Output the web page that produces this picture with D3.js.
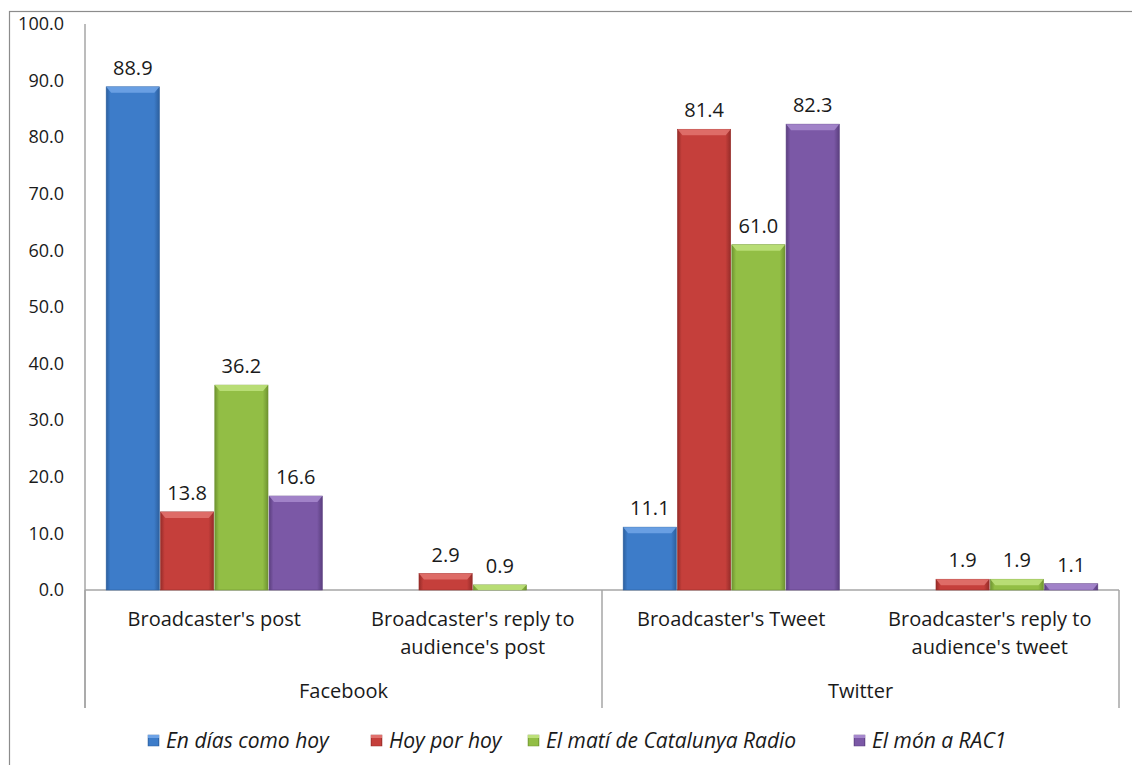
<!DOCTYPE html>
<html>
<head>
<meta charset="utf-8">
<script src="https://cdn.jsdelivr.net/npm/d3@7"></script>
<style>
  html, body { margin: 0; padding: 0; background: #fff; }
  svg text { font-family: "Open Sans", Lato, sans-serif; fill: #1a1a1a; }
</style>
</head>
<body>
<svg id="chart" width="1132" height="765"></svg>
<script>
// ---- data ----
const categories = ["Broadcaster's post", "Broadcaster's reply to|audience's post", "Broadcaster's Tweet", "Broadcaster's reply to|audience's tweet"];
const groups = ["Facebook", "Twitter"];
const groupOf = [0, 0, 1, 1];
const seriesNames = ["En días como hoy", "Hoy por hoy", "El matí de Catalunya Radio", "El món a RAC1"];
const enDiasComoHoy = [88.9, null, 11.1, null];
const hoyPorHoy = [13.8, 2.9, 81.4, 1.9];
const elMatiCatalunya = [36.2, 0.9, 61.0, 1.9];
const elMonRac1 = [16.6, null, 82.3, 1.1];
const yTicks = [0, 10, 20, 30, 40, 50, 60, 70, 80, 90, 100];
const seriesValues = [enDiasComoHoy, hoyPorHoy, elMatiCatalunya, elMonRac1];
const colors = [
  {base: "#3d7cc9", light: "#6ea3e6", dark: "#2c5f9e"},
  {base: "#c53f3b", light: "#e0716d", dark: "#962c29"},
  {base: "#92be45", light: "#bde07a", dark: "#6f9431"},
  {base: "#7b58a6", light: "#a587cc", dark: "#5b3f7f"}
];

const svg = d3.select("#chart");
const defs = svg.append("defs");
colors.forEach((c, i) => {
  const g = defs.append("linearGradient").attr("id", "grad" + i).attr("x1", "0").attr("x2", "1").attr("y1", "0").attr("y2", "0");
  g.append("stop").attr("offset", "0%").attr("stop-color", c.dark);
  g.append("stop").attr("offset", "8%").attr("stop-color", c.base);
  g.append("stop").attr("offset", "90%").attr("stop-color", c.base);
  g.append("stop").attr("offset", "100%").attr("stop-color", c.dark);
});

// outer frame
svg.append("rect").attr("x", 9.5).attr("y", 11.5).attr("width", 1140).attr("height", 780)
  .attr("fill", "none").attr("stroke", "#8c8c8c").attr("stroke-width", 1.2);

const pLeft = 85, pRight = 1119, pTop = 24, pBottom = 590;
const y = d3.scaleLinear().domain([0, 100]).range([pBottom, pTop]);
const x0 = d3.scaleBand().domain(d3.range(categories.length)).range([pLeft, pRight]).padding(0);
const x1 = d3.scaleBand().domain(d3.range(seriesNames.length)).range([0, x0.bandwidth()]).paddingInner(0.02).paddingOuter(0.39);

// y axis
const yAxis = d3.axisLeft(y).tickValues(yTicks).tickFormat(d3.format(".1f")).tickSize(0).tickPadding(21);
const yg = svg.append("g").attr("transform", `translate(${pLeft},0)`).call(yAxis);
yg.select(".domain").remove();
yg.selectAll("text").style("font-size", "18px").style("font-family", "'Open Sans', Lato, sans-serif").attr("fill", "#1a1a1a");

const axisColor = "#a6a6a6";
svg.append("line").attr("x1", pLeft).attr("x2", pLeft).attr("y1", pTop).attr("y2", 708).attr("stroke", axisColor).attr("stroke-width", 1.5);
svg.append("line").attr("x1", pLeft).attr("x2", pRight).attr("y1", pBottom).attr("y2", pBottom).attr("stroke", axisColor).attr("stroke-width", 1.5);
// group separators
[0, 2, 4].forEach(i => {
  const xx = i < 4 ? x0(i) : pRight;
  svg.append("line").attr("x1", xx).attr("x2", xx).attr("y1", pBottom).attr("y2", 708).attr("stroke", axisColor).attr("stroke-width", 1.5);
});

// bars
const bars = [];
categories.forEach((c, ci) => {
  seriesValues.forEach((vals, si) => {
    if (vals[ci] != null) bars.push({ci, si, v: vals[ci]});
  });
});
const bg = svg.append("g");
bars.forEach(b => {
  const bx = x0(b.ci) + x1(b.si), bw = x1.bandwidth();
  const by = y(b.v), bh = pBottom - by;
  const g = bg.append("g");
  g.append("rect").attr("x", bx).attr("y", by).attr("width", bw).attr("height", bh)
    .attr("fill", `url(#grad${b.si})`).attr("stroke", colors[b.si].dark).attr("stroke-width", 0.6);
  const bev = Math.min(6, bh);
  g.append("path")
    .attr("d", `M${bx},${by} L${bx + bw},${by} L${bx + bw - 5},${by + bev} L${bx + 5},${by + bev} Z`)
    .attr("fill", colors[b.si].light).attr("opacity", 0.9);
  svg.append("text").attr("x", bx + bw / 2).attr("y", by - 12)
    .attr("text-anchor", "middle").style("font-size", "20px").text(d3.format(".1f")(b.v));
});

// category labels
categories.forEach((c, ci) => {
  const lines = c.split("|");
  const t = svg.append("text").attr("x", x0(ci) + x0.bandwidth() / 2).attr("y", 626)
    .attr("text-anchor", "middle").style("font-size", "20px");
  lines.forEach((l, li) => t.append("tspan").attr("x", x0(ci) + x0.bandwidth() / 2).attr("dy", li === 0 ? 0 : 28).text(l));
});
// group labels
groups.forEach((g, gi) => {
  const idx = d3.range(categories.length).filter(i => groupOf[i] === gi);
  const xs = x0(idx[0]), xe = x0(idx[idx.length - 1]) + x0.bandwidth();
  svg.append("text").attr("x", (xs + xe) / 2).attr("y", 698).attr("text-anchor", "middle").style("font-size", "20px").text(g);
});

// legend
const legendX = [148, 371, 528, 854];
seriesNames.forEach((s, i) => {
  const lx = legendX[i];
  svg.append("rect").attr("x", lx).attr("y", 735).attr("width", 11).attr("height", 11)
    .attr("fill", `url(#grad${i})`).attr("stroke", colors[i].dark).attr("stroke-width", 0.5);
  svg.append("rect").attr("x", lx).attr("y", 735).attr("width", 11).attr("height", 3).attr("fill", colors[i].light);
  svg.append("text").attr("x", lx + 18).attr("y", 748).style("font-size", "21px").style("font-style", "italic").text(s);
});
</script>
</body>
</html>
